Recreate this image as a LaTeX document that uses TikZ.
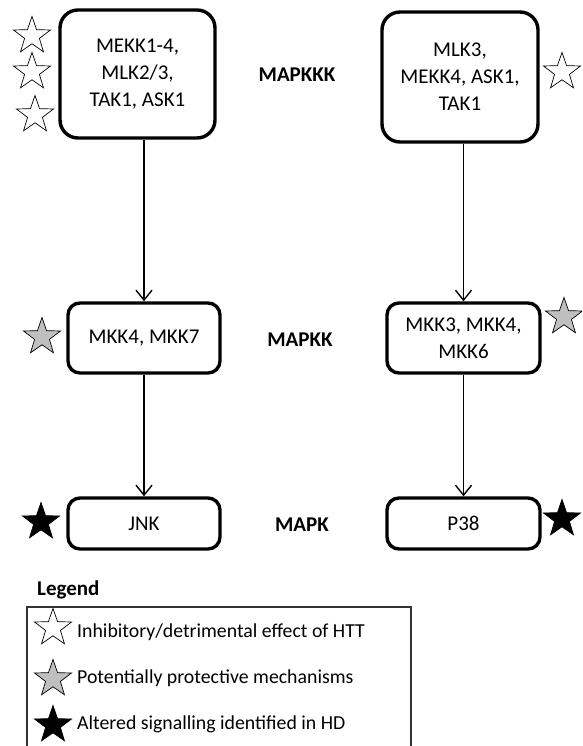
\documentclass[tikz,border=0pt]{standalone}
\usepackage{fontspec}
\setmainfont{Carlito}
\usetikzlibrary{shapes.geometric,arrows.meta}

\tikzset{
  kinase/.style={draw=black, line width=3.4pt, fill=white, rounded corners=#1,
                 align=center, inner sep=0pt, font=\fontsize{21}{27}\selectfont},
  kinase/.default=12pt,
  level/.style={font=\fontsize{21}{24}\selectfont\bfseries},
  flow/.style={line width=1.4pt, -{Straight Barb[length=10pt,width=16pt,line width=1.4pt]}},
  starshape/.style={star, star points=5, star point ratio=2.5, minimum size=39pt,
                    inner sep=0pt, draw=black, line width=0.7pt},
  hollowstar/.style={starshape, fill=white},
  greystar/.style={starshape, fill=gray!50},
  blackstar/.style={starshape, fill=black},
  legendtext/.style={anchor=west, inner sep=0pt, font=\fontsize{19.8}{22}\selectfont}
}

\begin{document}
\begin{tikzpicture}[x=1pt, y=-1pt]
  \useasboundingbox (0,0) rectangle (582,746);
  \clip (0,0) rectangle (582,746);
  \fill[white] (0,0) rectangle (582,746);

  % MAPKKK row
  \node[kinase=18pt, minimum width=155pt, minimum height=128pt] (mekk) at (137.5,74)
    {MEKK1-4,\\MLK2/3,\\TAK1, ASK1};
  \node[kinase=18pt, minimum width=156pt, minimum height=130pt] (mlk) at (460,77)
    {MLK3,\\MEKK4, ASK1,\\TAK1};
  \node[level] (l3) at (297,75) {MAPKKK};

  % MAPKK row
  \node[kinase, minimum width=152pt, minimum height=70pt] (mkkjnk) at (144,338)
    {MKK4, MKK7};
  \node[kinase, minimum width=153pt, minimum height=70pt] (mkkp38) at (463.5,338)
    {MKK3, MKK4,\\MKK6};
  \node[level] (l2) at (300,340) {MAPKK};

  % MAPK row
  \node[kinase, minimum width=152pt, minimum height=51pt] (jnk) at (144,523.5) {JNK};
  \node[kinase, minimum width=153pt, minimum height=51pt] (p38) at (463.5,523.5) {P38};
  \node[level] (l1) at (302,525) {MAPK};

  % cascade arrows
  \draw[flow] (mekk.south -| mkkjnk.north) -- (mkkjnk.north);
  \draw[flow] (mkkjnk.south) -- (jnk.north);
  \draw[flow] (mlk.south -| mkkp38.north) -- (mkkp38.north);
  \draw[flow] (mkkp38.south) -- (p38.north);

  % stars beside the kinases
  \node[hollowstar] (s1) at (32,36) {};
  \node[hollowstar] (s2) at (32,72) {};
  \node[hollowstar] (s3) at (35,115) {};
  \node[hollowstar] (s4) at (562,72) {};
  \node[greystar] (s5) at (42,337) {};
  \node[greystar] (s6) at (564,317) {};
  \node[blackstar] (s7) at (41,522) {};
  \node[blackstar] (s8) at (562,519) {};

  % legend
  \node[anchor=west, inner sep=0pt, font=\fontsize{21}{24}\selectfont\bfseries] (legtitle) at (37,590) {Legend};
  \draw[draw=black!80, line width=1.2pt] (27,760) -- (27,607) -- (411,607) -- (411,760);
  \node[hollowstar] (k1) at (53,628) {};
  \node[greystar] (k2) at (53,679) {};
  \node[blackstar] (k3) at (53,725) {};
  \node[legendtext] (t1) at (77,632) {Inhibitory/detrimental effect of HTT};
  \node[legendtext] (t2) at (77,678) {Potentially protective mechanisms};
  \node[legendtext] (t3) at (77,724) {Altered signalling identified in HD};
\end{tikzpicture}
\end{document}
